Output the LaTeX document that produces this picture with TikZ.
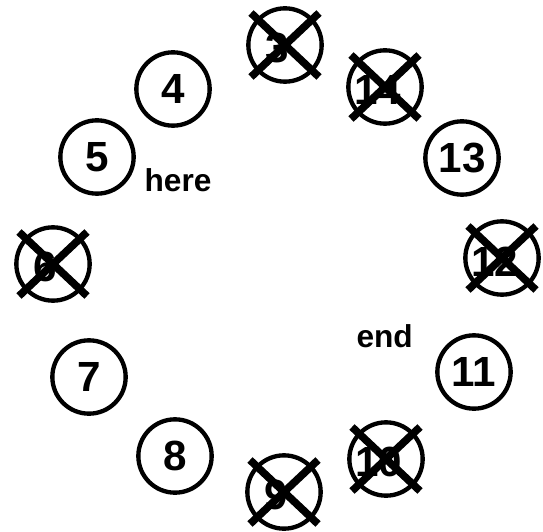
\documentclass[tikz,border=0pt]{standalone}
\usepackage{fontspec}
\setmainfont{Liberation Sans}
\usetikzlibrary{positioning}
\definecolor{rkInk}{HTML}{000000}
\tikzset{
  seat/.style={
    circle, draw=rkInk, line width=3.7pt, minimum size=2.2cm,
    inner sep=0pt, text=rkInk, font=\fontsize{36}{38}\selectfont\bfseries
  },
  gone/.style={seat},
  seatnum/.style={font=\fontsize{36}{38}\selectfont\bfseries, text=rkInk,
    inner sep=0pt, xshift=-0.22cm, yshift=-0.1cm},
  strike/.style={draw=rkInk, line width=6.5pt},
  lbl/.style={font=\fontsize{27}{29}\selectfont\bfseries, text=rkInk, inner sep=0pt},
}

\begin{document}
\begin{tikzpicture}
  \useasboundingbox (0,0) rectangle (16.29,15.93);

  \node[gone, label={[seatnum]center:3}]  (s3)  at (8.55,14.58) {};
  \node[gone, label={[seatnum]center:14}] (s14) at (11.55,13.32) {};
  \node[seat] (s13) at (13.86,11.19) {13};
  \node[gone, label={[seatnum]center:12}] (s12) at (15.06,8.19) {};
  \node[seat] (s11) at (14.22,4.77) {11};
  \node[gone, label={[seatnum]center:10}] (s10) at (11.58,2.16) {};
  \node[gone, label={[seatnum]center:9}]  (s9)  at (8.52,1.17) {};
  \node[seat] (s8)  at (5.25,2.25) {8};
  \node[seat] (s7)  at (2.67,4.62) {7};
  \node[gone, label={[seatnum]center:6}]  (s6)  at (1.59,8.01) {};
  \node[seat] (s5)  at (2.91,11.22) {5};
  \node[seat] (s4)  at (5.19,13.26) {4};

  \node[lbl] (here) at (5.34,10.53) {here};
  \node[lbl] (end)  at (11.54,5.85) {end};

  % crossed-out seats
  \foreach \s in {s3,s14,s12,s10,s9,s6} {
    \draw[strike] ([shift={(-1.02,0.96)}]\s.center) -- ([shift={(1.02,-0.96)}]\s.center);
    \draw[strike] ([shift={(1.02,0.96)}]\s.center) -- ([shift={(-1.02,-0.96)}]\s.center);
  }
\end{tikzpicture}
\end{document}
